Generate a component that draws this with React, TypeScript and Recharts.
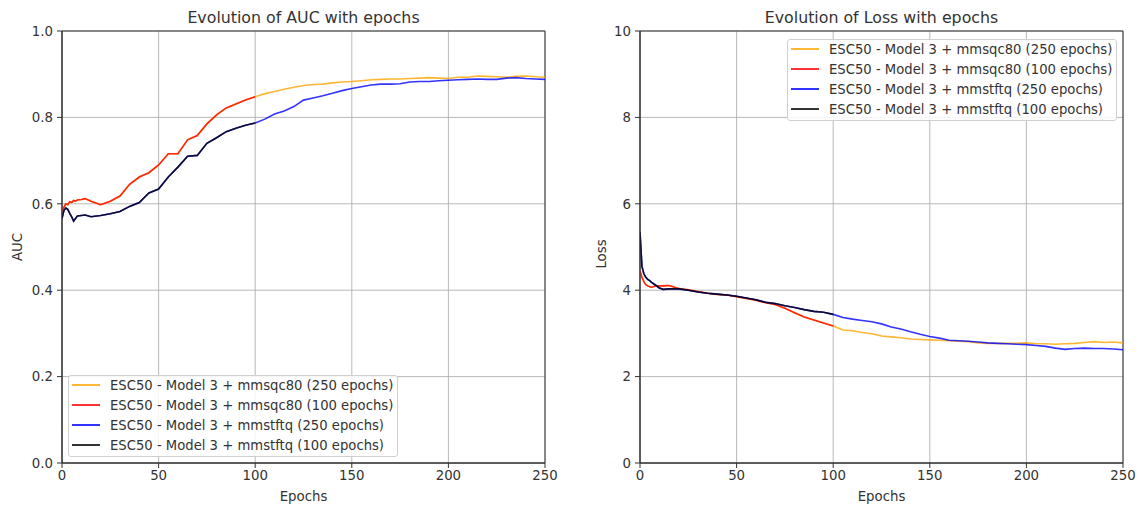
import { LineChart, Line, XAxis, YAxis, CartesianGrid, ReferenceArea } from "recharts"

const epochs = [
    0, 1, 2, 3, 4, 5, 6, 7, 8, 10, 12, 15, 20, 25, 30, 35, 40, 45, 50, 55, 60, 65, 70, 75, 80, 85, 90, 95, 100,
    105, 110, 115, 120, 125, 130, 135, 140, 145, 150, 155, 160, 165, 170, 175, 180, 185, 190, 195, 200, 205, 210,
    215, 220, 225, 230, 235, 240, 245, 250,
]

const aucSqc80 = [
    0.585, 0.592, 0.6, 0.598, 0.605, 0.603, 0.608, 0.606, 0.609, 0.61, 0.612, 0.606, 0.598, 0.606, 0.618, 0.645,
    0.662, 0.672, 0.69, 0.716, 0.716, 0.748, 0.758, 0.785, 0.806, 0.822, 0.831, 0.84, 0.848, 0.855, 0.86, 0.865,
    0.87, 0.874, 0.876, 0.877, 0.88, 0.882, 0.883, 0.885, 0.887, 0.888, 0.889, 0.889, 0.89, 0.891, 0.892, 0.891,
    0.89, 0.893, 0.893, 0.896, 0.895, 0.894, 0.893, 0.895, 0.896, 0.894, 0.893,
]

const aucStftq = [
    0.566, 0.585, 0.59, 0.587, 0.578, 0.57, 0.56, 0.566, 0.572, 0.573, 0.574, 0.57, 0.573, 0.577, 0.582, 0.594,
    0.603, 0.625, 0.634, 0.662, 0.685, 0.71, 0.712, 0.74, 0.753, 0.767, 0.775, 0.782, 0.787, 0.796, 0.808, 0.815,
    0.825, 0.84, 0.845, 0.85, 0.856, 0.862, 0.867, 0.871, 0.875, 0.877, 0.877, 0.878, 0.882, 0.883, 0.883, 0.885,
    0.886, 0.887, 0.888, 0.889, 0.888, 0.888, 0.891, 0.892, 0.89, 0.889, 0.888,
]

const lossSqc80 = [
    4.45, 4.3, 4.2, 4.13, 4.1, 4.08, 4.07, 4.08, 4.1, 4.1, 4.1, 4.11, 4.04, 4.01, 3.97, 3.93, 3.9, 3.89, 3.85, 3.81,
    3.77, 3.71, 3.67, 3.58, 3.48, 3.38, 3.31, 3.24, 3.17, 3.08, 3.06, 3.02, 2.99, 2.94, 2.92, 2.9, 2.87, 2.86, 2.85,
    2.84, 2.83, 2.82, 2.81, 2.78, 2.77, 2.77, 2.77, 2.77, 2.78, 2.76, 2.76, 2.75, 2.76, 2.77, 2.79, 2.81, 2.79, 2.8,
    2.78,
]

const lossStftq = [
    5.35, 4.55, 4.38, 4.3, 4.25, 4.22, 4.18, 4.15, 4.12, 4.05, 4.02, 4.03, 4.03, 4.0, 3.96, 3.93, 3.91, 3.89, 3.86,
    3.82, 3.78, 3.72, 3.69, 3.64, 3.6, 3.55, 3.51, 3.49, 3.44, 3.37, 3.33, 3.3, 3.27, 3.22, 3.15, 3.1, 3.04, 2.98,
    2.93, 2.89, 2.84, 2.83, 2.82, 2.8, 2.78, 2.77, 2.76, 2.75, 2.74, 2.72, 2.7, 2.66, 2.63, 2.65, 2.66, 2.65, 2.65,
    2.64, 2.62,
]

const xTicks = [0, 50, 100, 150, 200, 250]
const aucTicks = [0, 0.2, 0.4, 0.6, 0.8, 1.0]
const lossTicks = [0, 2, 4, 6, 8, 10]

const seriesNames = [
    "ESC50 - Model 3 + mmsqc80 (250 epochs)",
    "ESC50 - Model 3 + mmsqc80 (100 epochs)",
    "ESC50 - Model 3 + mmstftq (250 epochs)",
    "ESC50 - Model 3 + mmstftq (100 epochs)",
]
const seriesColors = ["#FFA500", "#FF0000", "#0000FF", "#000000"]

const FONT = "DejaVu Sans"
const TEXT = "#333"

const toRows = (vals: number[], maxEpoch = 250) =>
    epochs.map((e, i) => ({ epoch: e, v: vals[i] })).filter((r) => r.epoch <= maxEpoch)

function buildSeries(sqc: number[], stftq: number[]) {
    return [toRows(sqc), toRows(sqc, 100), toRows(stftq), toRows(stftq, 100)]
}

function LegendBox({ style }: { style: React.CSSProperties }) {
    return (
        <div
            style={{
                position: "absolute",
                width: 330,
                height: 82,
                boxSizing: "border-box",
                border: "1px solid #d0d0d0",
                borderRadius: 3,
                background: "rgba(255,255,255,0.85)",
                fontFamily: FONT,
                fontSize: 13.2,
                color: TEXT,
                ...style,
            }}
        >
            {seriesNames.map((name, i) => (
                <div key={name} style={{ height: 20, display: "flex", alignItems: "center", marginTop: i === 0 ? -1 : 0 }}>
                    <div style={{ width: 28, height: 2, marginLeft: 3, background: seriesColors[i], opacity: 0.8 }} />
                    <span style={{ marginLeft: 10, whiteSpace: "nowrap" }}>{name}</span>
                </div>
            ))}
        </div>
    )
}

interface PanelProps {
    left: number
    width: number
    marginLeft: number
    marginRight: number
    series: { epoch: number; v: number }[][]
    yMax: number
    yTicks: number[]
    yFormat: (v: number) => string
}

function Panel({ left, width, marginLeft, marginRight, series, yMax, yTicks, yFormat }: PanelProps) {
    return (
        <div style={{ position: "absolute", left, top: 0 }}>
            <LineChart width={width} height={509} margin={{ top: 31, right: marginRight, bottom: 16, left: marginLeft }}>
                <CartesianGrid stroke="#b0b0b0" strokeWidth={0.9} horizontalValues={yTicks} verticalValues={xTicks} />
                <XAxis
                    dataKey="epoch"
                    type="number"
                    domain={[0, 250]}
                    ticks={xTicks}
                    height={30}
                    stroke="#333"
                    tickSize={5}
                    tickMargin={3}
                    tick={{ fill: TEXT, fontSize: 13.3, fontFamily: FONT }}
                    allowDataOverflow
                />
                <YAxis
                    type="number"
                    domain={[0, yMax]}
                    ticks={yTicks}
                    width={50}
                    stroke="#333"
                    tickSize={5}
                    tickMargin={4}
                    tickFormatter={yFormat}
                    tick={{ fill: TEXT, fontSize: 13.3, fontFamily: FONT }}
                    allowDataOverflow
                />
                <ReferenceArea x1={0} x2={250} y1={0} y2={yMax} fill="none" stroke="#333" strokeWidth={1} />
                {series.map((rows, i) => (
                    <Line
                        key={seriesNames[i]}
                        data={rows}
                        dataKey="v"
                        name={seriesNames[i]}
                        type="linear"
                        stroke={seriesColors[i]}
                        strokeOpacity={0.8}
                        strokeWidth={1.6}
                        dot={false}
                        activeDot={false}
                        isAnimationActive={false}
                    />
                ))}
            </LineChart>
        </div>
    )
}

const label: React.CSSProperties = {
    position: "absolute",
    fontFamily: FONT,
    color: TEXT,
    whiteSpace: "nowrap",
    transform: "translate(-50%, -50%)",
}

export default function App() {
    const aucSeries = buildSeries(aucSqc80, aucStftq)
    const lossSeries = buildSeries(lossSqc80, lossStftq)

    return (
        <div style={{ position: "absolute", left: 0, top: 0, width: 1143, height: 509, background: "#fff" }}>
            <Panel
                left={0}
                width={580}
                marginLeft={12}
                marginRight={35}
                series={aucSeries}
                yMax={1}
                yTicks={aucTicks}
                yFormat={(v) => v.toFixed(1)}
            />
            <Panel
                left={580}
                width={563}
                marginLeft={10}
                marginRight={20}
                series={lossSeries}
                yMax={10}
                yTicks={lossTicks}
                yFormat={(v) => String(v)}
            />

            <div style={{ ...label, left: 303.5, top: 17, fontSize: 15.8 }}>Evolution of AUC with epochs</div>
            <div style={{ ...label, left: 881.5, top: 17, fontSize: 15.8 }}>Evolution of Loss with epochs</div>
            <div style={{ ...label, left: 303.5, top: 496, fontSize: 13.3 }}>Epochs</div>
            <div style={{ ...label, left: 881.5, top: 496, fontSize: 13.3 }}>Epochs</div>
            <div style={{ ...label, left: 17, top: 247, fontSize: 13.3, transform: "translate(-50%, -50%) rotate(-90deg)" }}>
                AUC
            </div>
            <div style={{ ...label, left: 601, top: 254, fontSize: 13.3, transform: "translate(-50%, -50%) rotate(-90deg)" }}>
                Loss
            </div>

            <LegendBox style={{ left: 68, top: 375 }} />
            <LegendBox style={{ left: 787, top: 39 }} />
        </div>
    )
}
